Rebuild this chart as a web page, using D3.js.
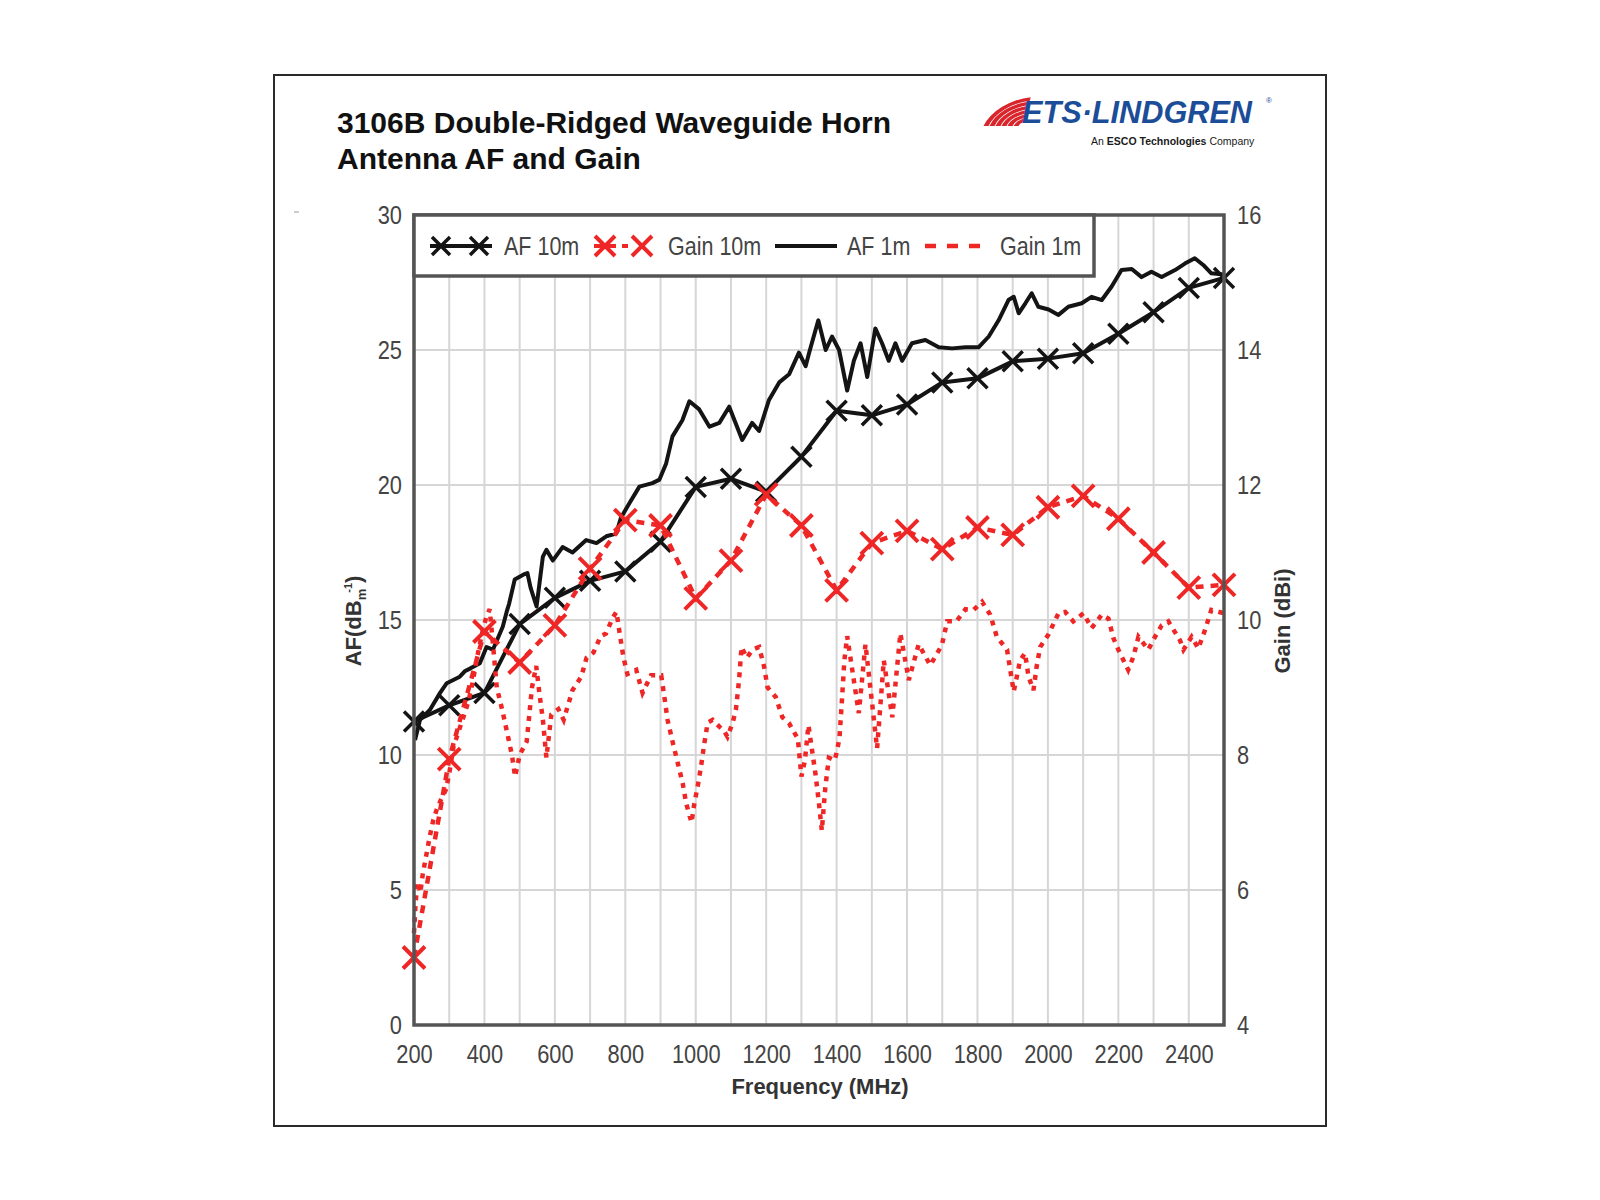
<!DOCTYPE html>
<html>
<head>
<meta charset="utf-8">
<script src="https://cdn.jsdelivr.net/npm/d3@7"></script>
<style>
  body { margin: 0; background: #fff; }
  svg { display: block; }
  text { font-family: "Liberation Sans", Arial, Helvetica, sans-serif; }
</style>
</head>
<body>
<svg id="chart" width="1600" height="1200"></svg>
<script>
// ---------------------------------------------------------------------------
// Data
// ---------------------------------------------------------------------------

const xTicks    = [200, 400, 600, 800, 1000, 1200, 1400, 1600, 1800, 2000, 2200, 2400];
const afTicks   = [0, 5, 10, 15, 20, 25, 30];
const gainTicks = [4, 6, 8, 10, 12, 14, 16];

// 10 m calibration, one marker every 100 MHz
const freq10 = [200, 300, 400, 500, 600, 700, 800, 900, 1000, 1100, 1200, 1300,
                1400, 1500, 1600, 1700, 1800, 1900, 2000, 2100, 2200, 2300, 2400, 2500];
const af10   = [11.24, 11.84, 12.3, 14.85, 15.82, 16.45, 16.8, 17.9, 19.93, 20.23, 19.75, 21.05,
                22.75, 22.58, 22.98, 23.8, 23.95, 24.58, 24.68, 24.88, 25.6, 26.4, 27.3, 27.67];
const gain10 = [5.0, 7.94, 9.83, 9.37, 9.92, 10.76, 11.48, 11.4, 10.32, 10.88, 11.86, 11.4,
                10.44, 11.14, 11.32, 11.05, 11.37, 11.26, 11.67, 11.84, 11.5, 11.0, 10.48, 10.52];

// 1 m calibration, AF (dB/m)
const af1Freq = [203, 217, 245, 274, 293, 330, 344, 359, 387, 406, 424, 452, 463, 470, 486,
                 514, 522, 531, 548, 566, 576, 594, 622, 650, 689, 718, 746, 774, 788, 812,
                 840, 877, 897, 916, 934, 962, 982, 1010, 1039, 1067, 1095, 1132, 1160, 1180,
                 1208, 1237, 1265, 1293, 1312, 1322, 1348, 1369, 1387, 1407, 1430, 1449, 1468,
                 1487, 1510, 1529, 1548, 1567, 1586, 1614, 1652, 1690, 1728, 1766, 1803, 1832,
                 1860, 1888, 1903, 1917, 1936, 1954, 1973, 2002, 2030, 2058, 2096, 2124, 2153,
                 2181, 2209, 2238, 2266, 2294, 2323, 2361, 2389, 2417, 2441, 2464, 2500];
const af1Val  = [10.55, 11.3, 11.67, 12.3, 12.66, 12.9, 13.1, 13.2, 13.4, 14.0, 13.9, 14.75, 15.3, 15.6, 16.5,
                 16.7, 16.74, 16.2, 15.5, 17.35, 17.6, 17.2, 17.7, 17.5, 17.96, 17.85, 18.1, 18.2, 18.8, 19.33,
                 19.94, 20.07, 20.2, 20.8, 21.8, 22.4, 23.1, 22.8, 22.16, 22.3, 22.9, 21.67, 22.3, 22.0,
                 23.15, 23.8, 24.1, 24.9, 24.4, 24.9, 26.1, 25.0, 25.5, 25.0, 23.5, 24.6, 25.25,
                 24.0, 25.8, 25.25, 24.6, 25.25, 24.6, 25.25, 25.37, 25.1, 25.06, 25.1, 25.1, 25.5,
                 26.1, 26.85, 26.97, 26.36, 26.73, 27.1, 26.6, 26.5, 26.3, 26.6, 26.73, 26.97, 26.85,
                 27.35, 27.96, 28.0, 27.7, 27.9, 27.7, 27.96, 28.2, 28.4, 28.15, 27.84, 27.8];

// 1 m calibration, gain (dBi)
const gain1Freq = [200, 205, 210, 218, 225, 235, 245, 255, 265, 275, 290, 300, 312, 325, 340,
                   355, 365, 375, 385, 395, 405, 415, 425, 435, 450, 465, 478, 487, 500, 520,
                   535, 547, 555, 566, 576, 590, 610, 625, 650, 675, 690, 710, 730, 745, 765,
                   775, 784, 795, 806, 831, 849, 873, 902, 911, 920, 935, 949, 963, 973, 988,
                   996, 1005, 1015, 1024, 1034, 1048, 1067, 1080, 1090, 1105, 1114, 1123, 1130, 1145,
                   1161, 1180, 1194, 1204, 1227, 1246, 1265, 1290, 1300, 1310, 1320, 1330, 1340, 1350,
                   1358, 1368, 1378, 1395, 1408, 1415, 1422, 1430, 1463, 1482, 1515, 1534, 1558, 1581,
                   1605, 1633, 1666, 1699, 1714, 1740, 1766, 1789, 1813, 1836, 1855, 1884, 1893, 1903,
                   1921, 1935, 1945, 1959, 1968, 1978, 2001, 2030, 2049, 2072, 2101, 2124, 2153, 2172,
                   2186, 2200, 2228, 2243, 2257, 2285, 2304, 2323, 2342, 2375, 2385, 2408, 2427, 2446,
                   2464, 2500];
const gain1Val  = [5.36, 5.84, 6.12, 5.96, 6.24, 6.52, 6.8, 7.04, 7.2, 7.32, 7.48, 7.72, 8.12, 8.32, 8.56,
                   8.8, 9.04, 9.32, 9.6, 9.84, 10.04, 10.16, 9.6, 9.0, 8.68, 8.32, 8.0, 7.68, 8.0, 8.2,
                   9.0, 9.32, 8.96, 8.52, 7.96, 8.6, 8.68, 8.52, 8.96, 9.16, 9.44, 9.52, 9.76, 9.8, 10.04,
                   10.12, 9.8, 9.44, 9.2, 9.26, 8.92, 9.18, 9.18, 8.86, 8.52, 8.18, 7.88, 7.58, 7.28, 7.0,
                   7.28, 7.52, 7.83, 8.16, 8.48, 8.52, 8.42, 8.36, 8.27, 8.48, 8.67, 9.11, 9.6, 9.44,
                   9.56, 9.6, 9.31, 9.0, 8.86, 8.56, 8.47, 8.24, 7.68, 7.92, 8.44, 8.08, 7.72, 7.28,
                   6.88, 7.52, 7.96, 7.92, 8.24, 8.8, 9.4, 9.76, 8.62, 9.64, 8.1, 9.4, 8.56, 9.8,
                   9.11, 9.64, 9.33, 9.63, 9.98, 9.98, 10.16, 10.15, 10.27, 10.08, 9.75, 9.56, 9.26, 8.94,
                   9.4, 9.51, 9.16, 8.96, 9.31, 9.6, 9.78, 10.1, 10.12, 9.98, 10.1, 9.88, 10.08, 10.02,
                   9.73, 9.56, 9.26, 9.46, 9.75, 9.56, 9.75, 9.92, 9.98, 9.7, 9.56, 9.75, 9.58, 9.85,
                   10.15, 10.1];

const legendItems = ['AF 10m', 'Gain 10m', 'AF 1m', 'Gain 1m'];

// ---------------------------------------------------------------------------
// Layout
// ---------------------------------------------------------------------------

const PLOT = { left: 414, right: 1224, top: 215, bottom: 1025 };
const RED = '#ee2626';
const INK = '#141414';
const AXIS_GRAY = '#545454';
const LABEL_GRAY = '#444';

const svg = d3.select('#chart');

// squeeze a text horizontally (the source uses a narrow face)
function condense(sel, k) {
  sel.each(function () {
    const w = this.getComputedTextLength();
    d3.select(this).attr('textLength', w * k).attr('lengthAdjust', 'spacingAndGlyphs');
  });
}

function xMark(s) {
  return `M${-s},${-s}L${s},${s}M${-s},${s}L${s},${-s}`;
}

const x = d3.scaleLinear().domain([200, 2500]).range([PLOT.left, PLOT.right]);
const yAF = d3.scaleLinear().domain([0, 30]).range([PLOT.bottom, PLOT.top]);
const yGain = d3.scaleLinear().domain([4, 16]).range([PLOT.bottom, PLOT.top]);

// outer frame
svg.append('rect')
  .attr('x', 274).attr('y', 75).attr('width', 1052).attr('height', 1051)
  .attr('fill', '#fff').attr('stroke', '#2a2a2a').attr('stroke-width', 2);

// title
const title = svg.append('text')
  .attr('x', 337).attr('y', 133)
  .attr('font-size', 30).attr('font-weight', 'bold').attr('fill', '#111');
title.append('tspan').attr('x', 337).text('3106B Double-Ridged Waveguide Horn');
title.append('tspan').attr('x', 337).attr('dy', 36).text('Antenna AF and Gain');

// stray dash left of the plot
svg.append('line').attr('x1', 294).attr('x2', 299).attr('y1', 212).attr('y2', 212)
  .attr('stroke', '#999').attr('stroke-width', 1);

// ---------------------------------------------------------------------------
// Logo
// ---------------------------------------------------------------------------

const logo = svg.append('g');
const waves = logo.append('g').attr('transform', 'translate(1024,126) scale(1,0.72)');
[8, 14, 20, 26, 32, 38].forEach(r => {
  waves.append('path')
    .attr('d', d3.arc()({ innerRadius: r - 2.5, outerRadius: r + 2.5,
                          startAngle: -Math.PI * 0.5, endAngle: -Math.PI * 0.05 }))
    .attr('transform', 'skewX(-18)')
    .attr('fill', '#d9252c');
});
logo.append('text')
  .attr('x', 1022).attr('y', 123)
  .attr('font-size', 31).attr('font-weight', 'bold').attr('font-style', 'italic')
  .attr('fill', '#1b4d98')
  .attr('textLength', 230).attr('lengthAdjust', 'spacingAndGlyphs')
  .text('ETS·LINDGREN');
logo.append('text')
  .attr('x', 1266).attr('y', 103).attr('font-size', 8).attr('fill', '#1b4d98').text('®');

// tagline, laid out piece by piece at natural width
let tagX = 1091;
[['An', 'normal'], ['ESCO Technologies', 'bold'], ['Company', 'normal']].forEach(([t, w]) => {
  const el = logo.append('text')
    .attr('x', tagX).attr('y', 145)
    .attr('font-size', 10.5).attr('font-weight', w).attr('fill', '#1a1a1a')
    .text(t);
  tagX += el.node().getComputedTextLength() + 3;
});

// ---------------------------------------------------------------------------
// Grid
// ---------------------------------------------------------------------------

const grid = svg.append('g');
grid.selectAll('.vgrid')
  .data(x.ticks(23).filter(v => v > 200 && v < 2500))
  .join('line')
  .attr('x1', d => x(d)).attr('x2', d => x(d))
  .attr('y1', PLOT.top).attr('y2', PLOT.bottom)
  .attr('stroke', '#d6d6d6').attr('stroke-width', 2);
grid.selectAll('.hgrid')
  .data(afTicks.filter(v => v > 0 && v < 30))
  .join('line')
  .attr('x1', PLOT.left).attr('x2', PLOT.right)
  .attr('y1', d => yAF(d)).attr('y2', d => yAF(d))
  .attr('stroke', '#d6d6d6').attr('stroke-width', 2);

// ---------------------------------------------------------------------------
// Axes
// ---------------------------------------------------------------------------

function styleAxis(g) {
  g.select('.domain').remove();
  g.selectAll('text')
    .attr('font-size', 26).attr('fill', LABEL_GRAY)
    .attr('font-family', '"Liberation Sans", Arial, sans-serif')
    .call(condense, 0.84);
}

svg.append('g')
  .attr('transform', `translate(0,${PLOT.bottom})`)
  .call(d3.axisBottom(x).tickValues(xTicks).tickFormat(d3.format('d')).tickSize(0).tickPadding(20))
  .call(styleAxis);

svg.append('g')
  .attr('transform', `translate(${PLOT.left},0)`)
  .call(d3.axisLeft(yAF).tickValues(afTicks).tickSize(0).tickPadding(12))
  .call(styleAxis);

svg.append('g')
  .attr('transform', `translate(${PLOT.right},0)`)
  .call(d3.axisRight(yGain).tickValues(gainTicks).tickSize(0).tickPadding(13))
  .call(styleAxis);

// axis titles
svg.append('text')
  .attr('x', 820).attr('y', 1094).attr('text-anchor', 'middle')
  .attr('font-size', 22).attr('font-weight', 'bold').attr('fill', '#333')
  .text('Frequency (MHz)');

const afTitle = svg.append('text')
  .attr('transform', 'translate(361,621) rotate(-90)')
  .attr('text-anchor', 'middle')
  .attr('font-size', 22).attr('font-weight', 'bold').attr('fill', '#333');
afTitle.append('tspan').text('AF(dB');
afTitle.append('tspan').attr('font-size', 13).attr('dy', 5).text('m');
afTitle.append('tspan').attr('font-size', 11).attr('dx', -4).attr('dy', -14).text('-1');
afTitle.append('tspan').attr('dy', 9).text(')');

svg.append('text')
  .attr('transform', 'translate(1290,621) rotate(-90)')
  .attr('text-anchor', 'middle')
  .attr('font-size', 22).attr('font-weight', 'bold').attr('fill', '#333')
  .text('Gain (dBi)');

// ---------------------------------------------------------------------------
// Series
// ---------------------------------------------------------------------------

const series = svg.append('g');

const afLine = d3.line().x(d => x(d[0])).y(d => yAF(d[1]));
const gainLine = d3.line().x(d => x(d[0])).y(d => yGain(d[1]));

// AF 1 m
series.append('path')
  .attr('d', afLine(d3.zip(af1Freq, af1Val)))
  .attr('fill', 'none').attr('stroke', INK).attr('stroke-width', 4)
  .attr('stroke-linejoin', 'round');

// AF 10 m
series.append('path')
  .attr('d', afLine(d3.zip(freq10, af10)))
  .attr('fill', 'none').attr('stroke', INK).attr('stroke-width', 4)
  .attr('stroke-linejoin', 'round');
series.selectAll('.af10-mark')
  .data(d3.zip(freq10, af10))
  .join('path')
  .attr('transform', d => `translate(${x(d[0])},${yAF(d[1])})`)
  .attr('d', xMark(10))
  .attr('stroke', INK).attr('stroke-width', 3.5).attr('fill', 'none');

// Gain 1 m
series.append('path')
  .attr('d', gainLine(d3.zip(gain1Freq, gain1Val)))
  .attr('fill', 'none').attr('stroke', RED).attr('stroke-width', 4.5)
  .attr('stroke-dasharray', '5,6');

// Gain 10 m
series.append('path')
  .attr('d', gainLine(d3.zip(freq10, gain10)))
  .attr('fill', 'none').attr('stroke', RED).attr('stroke-width', 4.5)
  .attr('stroke-dasharray', '8,7');
series.selectAll('.g10-mark')
  .data(d3.zip(freq10, gain10))
  .join('path')
  .attr('transform', d => `translate(${x(d[0])},${yGain(d[1])})`)
  .attr('d', xMark(11))
  .attr('stroke', RED).attr('stroke-width', 4).attr('fill', 'none');

// plot frame
svg.append('rect')
  .attr('x', PLOT.left).attr('y', PLOT.top)
  .attr('width', PLOT.right - PLOT.left).attr('height', PLOT.bottom - PLOT.top)
  .attr('fill', 'none').attr('stroke', AXIS_GRAY).attr('stroke-width', 3.5);

// ---------------------------------------------------------------------------
// Legend
// ---------------------------------------------------------------------------

const lg = svg.append('g');
lg.append('rect')
  .attr('x', PLOT.left).attr('y', PLOT.top).attr('width', 680).attr('height', 61)
  .attr('fill', '#fff').attr('stroke', AXIS_GRAY).attr('stroke-width', 3.5);

const LY = 246;
// AF 10m symbol
lg.append('line').attr('x1', 430).attr('x2', 492).attr('y1', LY).attr('y2', LY)
  .attr('stroke', INK).attr('stroke-width', 4);
[441, 479].forEach(cx => lg.append('path')
  .attr('transform', `translate(${cx},${LY})`).attr('d', xMark(9))
  .attr('stroke', INK).attr('stroke-width', 3.5).attr('fill', 'none'));
// Gain 10m symbol
lg.append('line').attr('x1', 594).attr('x2', 628).attr('y1', LY).attr('y2', LY)
  .attr('stroke', RED).attr('stroke-width', 4).attr('stroke-dasharray', '8,6');
[605, 642].forEach(cx => lg.append('path')
  .attr('transform', `translate(${cx},${LY})`).attr('d', xMark(10))
  .attr('stroke', RED).attr('stroke-width', 4).attr('fill', 'none'));
// AF 1m symbol
lg.append('line').attr('x1', 775).attr('x2', 837).attr('y1', LY).attr('y2', LY)
  .attr('stroke', INK).attr('stroke-width', 4);
// Gain 1m symbol
lg.append('line').attr('x1', 925).attr('x2', 981).attr('y1', LY).attr('y2', LY)
  .attr('stroke', RED).attr('stroke-width', 4.5).attr('stroke-dasharray', '11,11');

const legendX = [504, 668, 847, 1000];
lg.selectAll('.lg-text')
  .data(legendItems)
  .join('text')
  .attr('x', (d, i) => legendX[i]).attr('y', LY + 9)
  .attr('font-size', 25).attr('fill', LABEL_GRAY)
  .text(d => d)
  .call(condense, 0.86);
</script>
</body>
</html>
